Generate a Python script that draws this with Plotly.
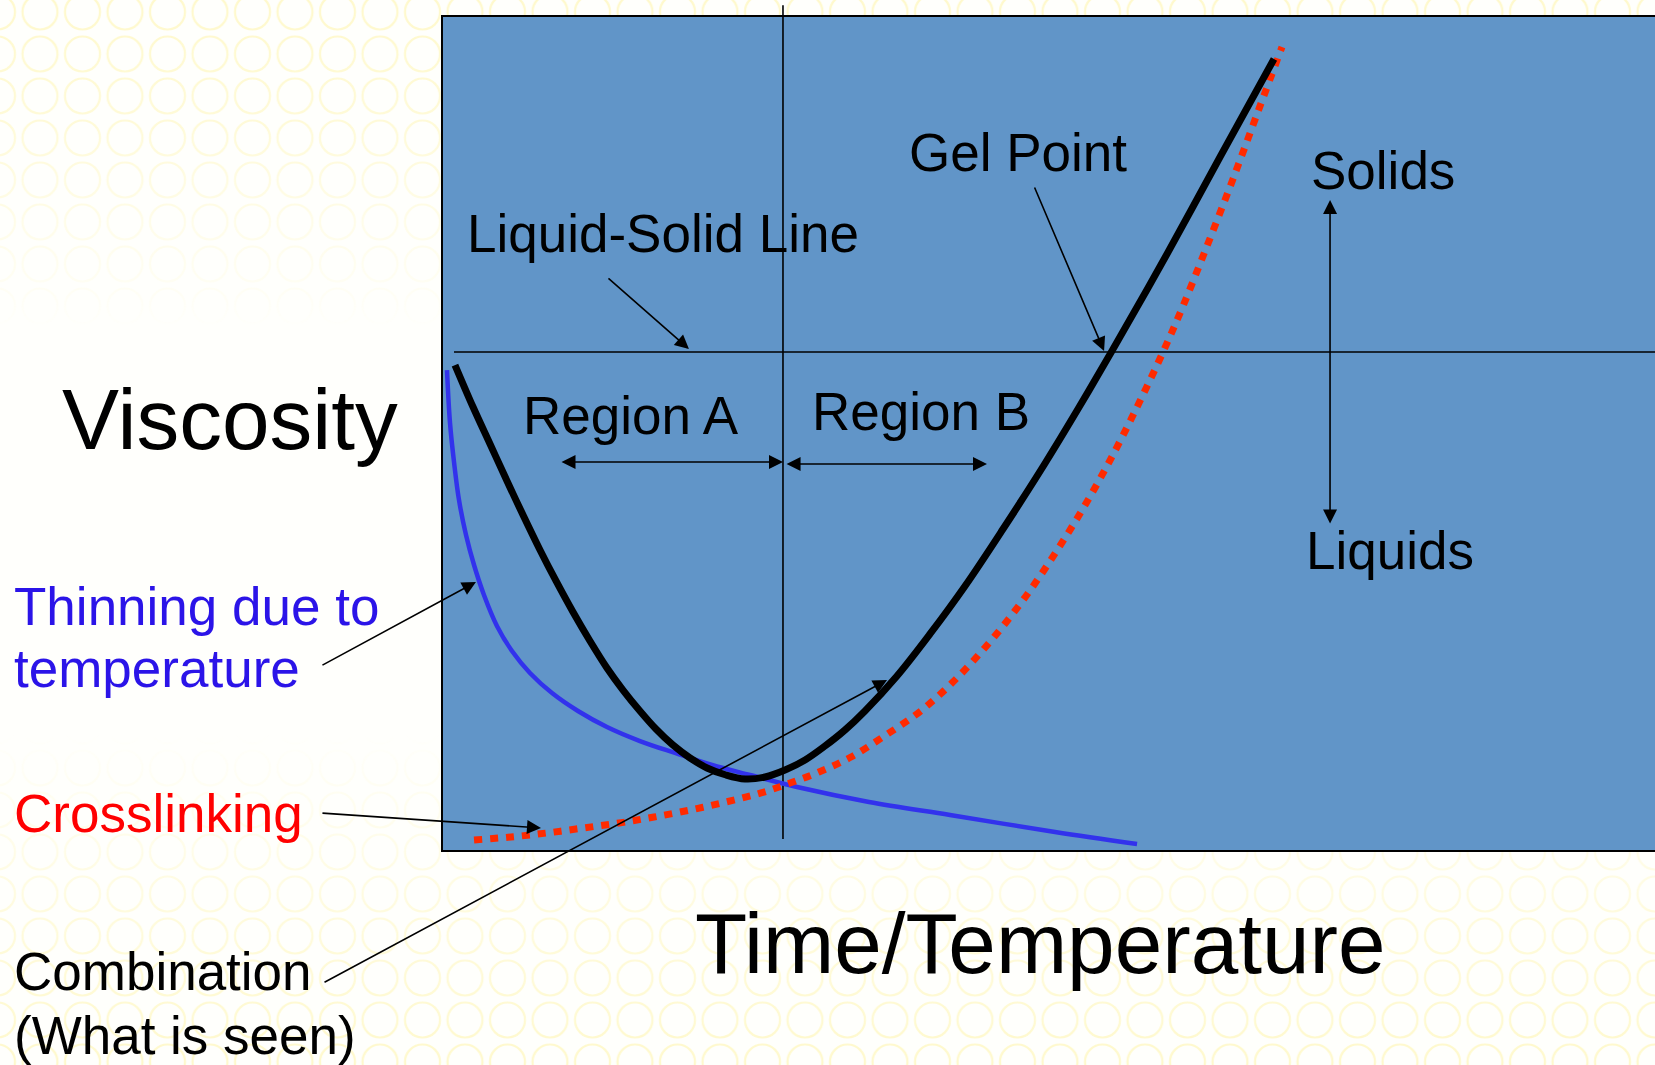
import base64
import plotly.graph_objects as go

# ---------------- data (arbitrary units: time/temperature 0-100, viscosity 0-100) -------------
time_combined = [1.07, 2.56, 3.96, 5.36, 6.68, 8.08, 9.40, 10.80, 12.20, 13.60, 14.92, 16.32,
                 17.64, 19.04, 20.45, 21.85, 23.41, 24.98, 26.63, 28.28, 29.93, 31.57, 33.22,
                 34.87, 37.51, 40.23, 43.12, 46.25, 49.63, 52.43, 55.23, 59.77, 64.14, 68.59]
visc_combined = [58.20, 53.17, 48.74, 44.31, 40.24, 36.05, 32.34, 28.62, 25.15, 21.92, 19.28, 16.77,
                 14.61, 12.69, 11.14, 9.94, 9.10, 8.62, 8.86, 9.70, 10.90, 12.57, 14.49,
                 16.77, 20.96, 25.99, 31.74, 38.56, 46.23, 52.93, 59.88, 71.50, 83.11, 94.85]

time_thinning = [0.41, 0.66, 0.99, 1.40, 1.98, 2.64, 3.46, 4.53, 5.77, 7.25, 9.07, 11.21,
                 13.60, 16.32, 19.21, 22.26, 25.39, 29.27, 35.20, 41.88, 50.54, 57.30]
visc_thinning = [57.60, 51.26, 46.59, 42.04, 37.84, 34.25, 30.66, 26.95, 23.95, 21.32, 18.92, 16.77,
                 14.85, 13.17, 11.74, 10.30, 9.10, 7.66, 5.87, 4.31, 2.28, 0.84]

time_crosslink = [2.64, 5.69, 8.66, 11.62, 14.59, 17.48, 20.45, 23.41, 26.30, 28.69, 31.08, 33.72,
                  36.60, 39.57, 42.54, 45.51, 48.15, 50.78, 53.26, 55.56, 57.54, 59.44, 61.09,
                  63.07, 65.21, 67.44, 69.25]
visc_crosslink = [1.32, 1.68, 2.16, 2.75, 3.35, 4.07, 4.91, 5.87, 6.95, 8.14, 9.46, 11.26,
                  13.89, 16.89, 20.84, 25.63, 30.54, 36.17, 42.04, 48.14, 53.89, 59.76, 65.27,
                  72.46, 80.48, 89.22, 96.29]

liquid_solid_x = [0.99, 101.0]
liquid_solid_y = [59.76, 59.76]
region_divider_x = [28.11, 28.11]
region_divider_y = [1.44, 101.3]

# ---------------- figure ----------------
FONT = "Liberation Sans, Arial, sans-serif"
W, H = 1655, 1065

svg = f"""<svg xmlns='http://www.w3.org/2000/svg' width='{W}' height='{H}' viewBox='0 0 {W} {H}'>
<defs>
<pattern id='p' x='18.75' y='-9' width='42.5' height='42' patternUnits='userSpaceOnUse'>
<circle cx='21.25' cy='21' r='17.5' fill='none' stroke='#FFF9CC' stroke-width='2.2'/>
</pattern>
<linearGradient id='g' x1='0' y1='0' x2='0' y2='1'>
<stop offset='0' stop-color='white' stop-opacity='1'/>
<stop offset='0.12' stop-color='white' stop-opacity='0.75'/>
<stop offset='0.31' stop-color='white' stop-opacity='0'/>
<stop offset='0.69' stop-color='white' stop-opacity='0'/>
<stop offset='0.86' stop-color='white' stop-opacity='0.65'/>
<stop offset='1' stop-color='white' stop-opacity='1'/>
</linearGradient>
<mask id='m'><rect width='{W}' height='{H}' fill='url(#g)'/></mask>
</defs>
<rect width='{W}' height='{H}' fill='#FFFFFC'/>
<rect width='{W}' height='{H}' fill='url(#p)' mask='url(#m)'/>
</svg>"""
bg_uri = "data:image/svg+xml;base64," + base64.b64encode(svg.encode()).decode()

fig = go.Figure()

fig.add_trace(go.Scatter(x=liquid_solid_x, y=liquid_solid_y, mode="lines",
                         line=dict(color="black", width=1.6), hoverinfo="skip"))
fig.add_trace(go.Scatter(x=region_divider_x, y=region_divider_y, mode="lines",
                         line=dict(color="black", width=1.6), hoverinfo="skip"))
fig.add_trace(go.Scatter(x=time_thinning, y=visc_thinning, mode="lines",
                         line=dict(color="#3232EC", width=4.5, shape="spline"),
                         name="Thinning due to temperature"))
fig.add_trace(go.Scatter(x=time_crosslink, y=visc_crosslink, mode="lines",
                         line=dict(color="#FF2A00", width=7, dash="8px,8px", shape="spline"),
                         name="Crosslinking"))
fig.add_trace(go.Scatter(x=time_combined, y=visc_combined, mode="lines",
                         line=dict(color="black", width=7, shape="spline"),
                         name="Combination"))

# plot box
fig.add_shape(type="rect", xref="x", yref="y", x0=0, y0=0, x1=101, y1=100,
              fillcolor="#6195C8", line=dict(color="black", width=2), layer="below")

ann = []


def text(t, x, y, size=53, color="black", xanchor="left"):
    ann.append(dict(text=t, x=x, y=y, xref="x", yref="y", showarrow=False,
                    xanchor=xanchor, yanchor="middle",
                    font=dict(family=FONT, size=size, color=color)))


def arrow(x0, y0, x1, y1, both=False):
    d = dict(text="", x=x1, y=y1, ax=x0, ay=y0, xref="x", yref="y", axref="x", ayref="y",
             showarrow=True, arrowhead=2, arrowsize=1.75, arrowwidth=1.6,
             arrowcolor="black", standoff=0, startstandoff=0)
    if both:
        d.update(arrowside="end+start", startarrowhead=2, startarrowsize=1.75)
    ann.append(d)


text("Viscosity", -31.51, 51.62, size=85.5)
text("Time/Temperature", 49.30, -11.02, size=85.5, xanchor="center")
text("Gel Point", 38.32, 83.71)
text("Liquid-Solid Line", 1.88, 73.95)
text("Region A", 6.50, 52.16)
text("Region B", 30.33, 52.69)
text("Solids", 71.46, 81.50)
text("Liquids", 71.05, 35.99)
text("Thinning due to", -35.45, 29.28, color="#2B14E8")
text("temperature", -35.45, 21.80, color="#2B14E8")
text("Crosslinking", -35.47, 4.49, color="#FF0000")
text("Combination", -35.47, -14.43)
text("(What is seen)", -35.47, -22.04)

arrow(13.60, 68.74, 20.36, 60.12)          # liquid-solid line
arrow(48.80, 79.64, 54.58, 59.88)          # gel point
arrow(9.73, 46.59, 28.11, 46.59, both=True)   # region A
arrow(28.28, 46.35, 44.93, 46.35, both=True)  # region B
arrow(73.21, 39.04, 73.21, 77.96, both=True)  # liquids / solids
arrow(-9.98, 22.16, 2.80, 32.22)           # thinning
arrow(-9.98, 4.55, 8.16, 2.75)             # crosslinking
arrow(-9.81, -15.81, 36.69, 20.48)         # combination

fig.update_layout(
    width=W, height=H, autosize=False,
    margin=dict(l=0, r=0, t=0, b=0, pad=0),
    paper_bgcolor="white", plot_bgcolor="rgba(0,0,0,0)",
    showlegend=False,
    xaxis=dict(range=[-36.439, 100.0], visible=False, fixedrange=True),
    yaxis=dict(range=[-25.629, 101.916], visible=False, fixedrange=True),
    annotations=ann,
    images=[dict(source=bg_uri, xref="paper", yref="paper", x=0, y=1, sizex=1, sizey=1,
                 xanchor="left", yanchor="top", sizing="stretch", layer="below")],
    font=dict(family=FONT),
)

fig.write_html("out.html", config={"displayModeBar": False})
